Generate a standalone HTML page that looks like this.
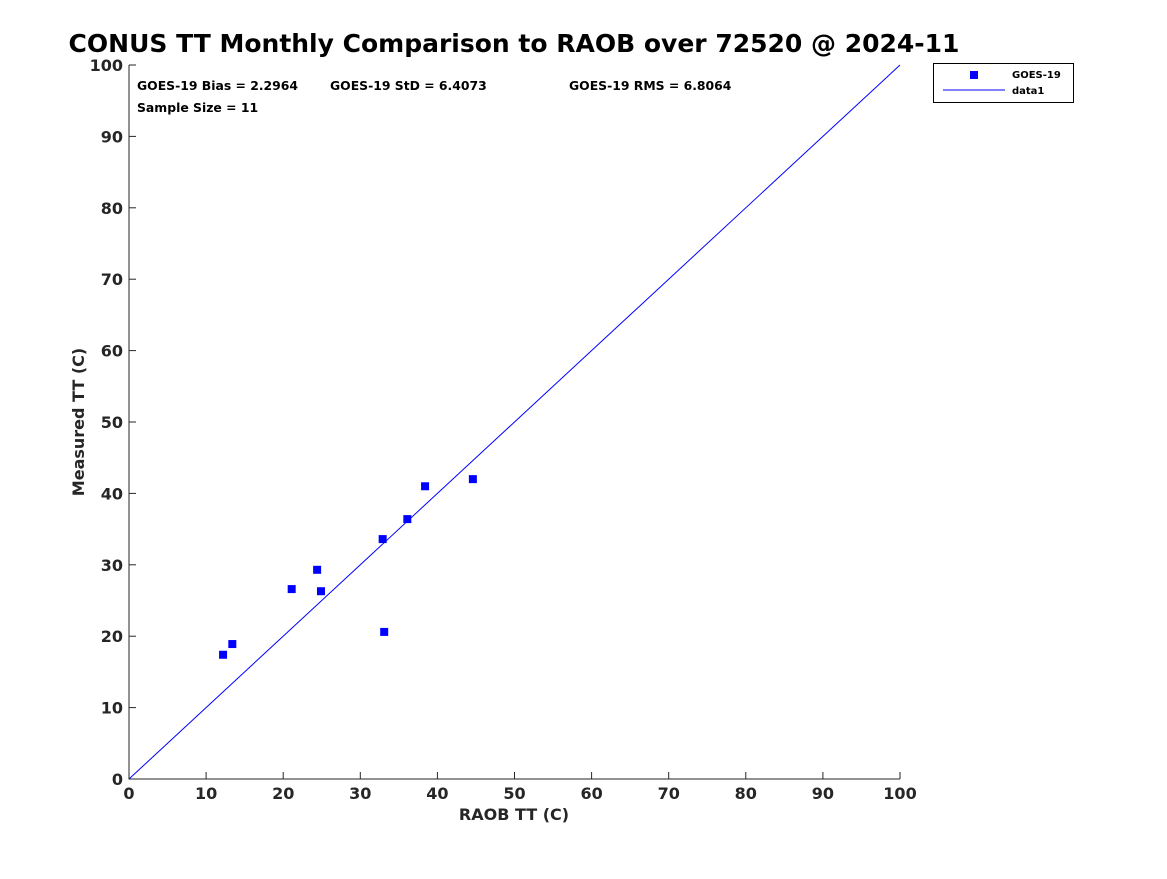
<!DOCTYPE html>
<html><head><meta charset="utf-8"><style>
body{margin:0;background:#fff;font-family:"DejaVu Sans","Liberation Sans",sans-serif;}
svg text{font-family:"DejaVu Sans","Liberation Sans",sans-serif;font-weight:bold;}
</style></head><body>
<svg id="c" width="1167" height="875" xmlns="http://www.w3.org/2000/svg">
<text x="514" y="52" text-anchor="middle" font-size="25" fill="#000">CONUS TT Monthly Comparison to RAOB over 72520 @ 2024-11</text>
<text x="137" y="90" font-size="12.4">GOES-19 Bias = 2.2964</text>
<text x="330" y="90" font-size="12.4">GOES-19 StD = 6.4073</text>
<text x="569" y="90" font-size="12.4">GOES-19 RMS = 6.8064</text>
<text x="137" y="112" font-size="12.4">Sample Size = 11</text>
<text x="514" y="820" text-anchor="middle" font-size="16" fill="#262626">RAOB TT (C)</text>
<text transform="translate(84,422) rotate(-90)" text-anchor="middle" font-size="16" fill="#262626">Measured TT (C)</text>
<g id="ticks"></g>
<g id="marks"></g>
<g>
<rect x="933.5" y="63.5" width="140" height="39" fill="#fff" stroke="#000"/>
<rect x="970" y="71" width="8" height="8" fill="#0000ff"/>
<text x="1012" y="78" font-size="10">GOES-19</text>
<line x1="943" y1="90" x2="1005" y2="90" stroke="#0000ff"/>
<text x="1012" y="94" font-size="10">data1</text>
</g>
</svg>
<script>
const raobTT=[12.2,13.4,21.1,24.4,24.9,32.9,33.1,36.1,38.4,44.6];
const measuredTT=[17.4,18.9,26.6,29.3,26.3,33.6,20.6,36.4,41.0,42.0];
const tickValues=[0,10,20,30,40,50,60,70,80,90,100];
const NS="http://www.w3.org/2000/svg";
const L=129,R=900,T=65,B=779;
const sx=v=>L+(v/100)*(R-L), sy=v=>B-(v/100)*(B-T);
function mk(t,a,p){const e=document.createElementNS(NS,t);for(const k in a)e.setAttribute(k,a[k]);p.appendChild(e);return e;}
const tk=document.getElementById('ticks'), mg=document.getElementById('marks');
const ax=mk('path',{d:`M${L},${T}V${B}H${R}`,fill:'none',stroke:'#262626'},tk);


tickValues.forEach(v=>{
  mk('line',{x1:sx(v),x2:sx(v),y1:B,y2:B-7,stroke:'#262626'},tk);
  mk('line',{x1:L,x2:L+7,y1:sy(v),y2:sy(v),stroke:'#262626'},tk);
  const xt=mk('text',{x:sx(v),y:B+20,'text-anchor':'middle','font-size':16,fill:'#262626'},tk);xt.textContent=v;
  
  
  const yt=mk('text',{x:L-6,y:sy(v)+6,'text-anchor':'end','font-size':16,fill:'#262626'},tk);yt.textContent=v;
  
  
});
const ln=mk('line',{x1:sx(0),y1:sy(0),x2:sx(100),y2:sy(100),stroke:'#0000ff'},mg);


raobTT.forEach((x,i)=>{
  const r=mk('rect',{x:sx(x)-4,y:sy(measuredTT[i])-4,width:8,height:8,fill:'#0000ff'},mg);
  
  
});
</script>
</body></html>
